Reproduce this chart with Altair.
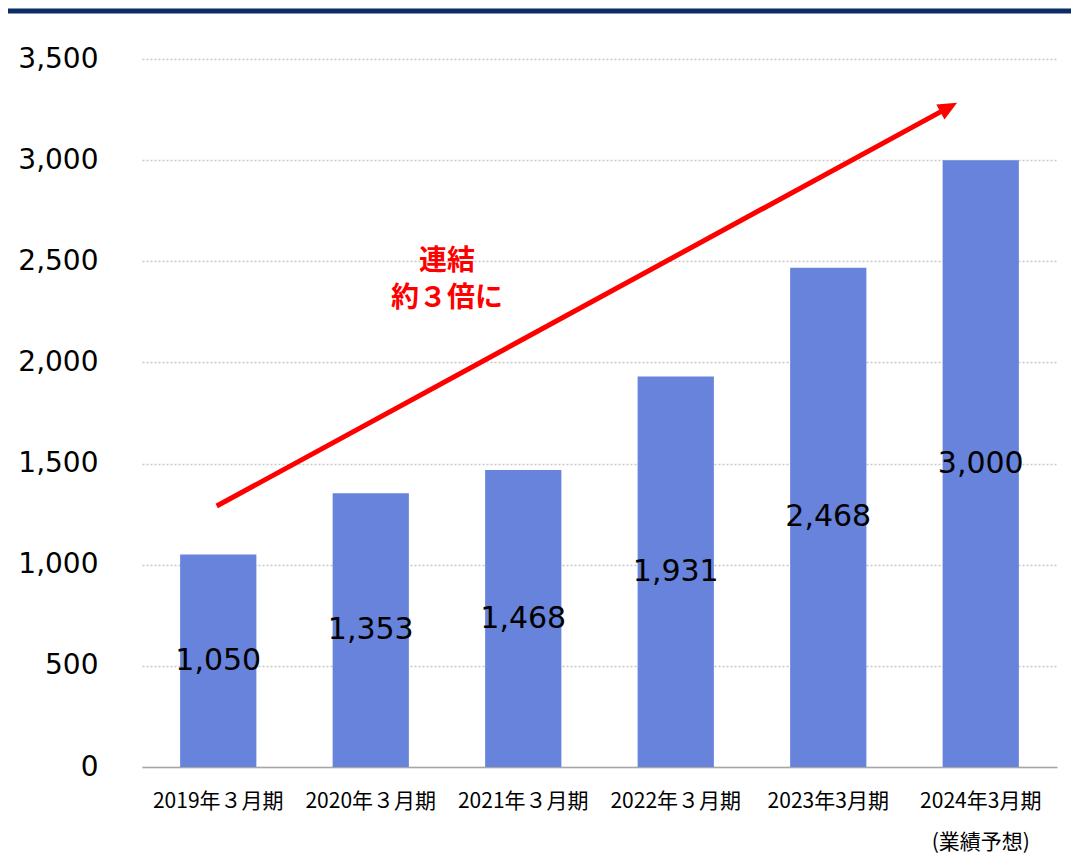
import altair as alt
import pandas as pd

# ---- data ----
categories = ["2019年３月期", "2020年３月期", "2021年３月期", "2022年３月期", "2023年3月期", "2024年3月期"]
values = [1050, 1353, 1468, 1931, 2468, 3000]
value_labels = ["1,050", "1,353", "1,468", "1,931", "2,468", "3,000"]
y_ticks = [0, 500, 1000, 1500, 2000, 2500, 3000, 3500]

# annotation (arrow in band-index units / value units)
arrow_x = [0.49, 5.29]
arrow_y = [1290, 3261]
note_lines = ["連結", "約３倍に"]
note_x = [2.0, 2.0]
note_y = [2496, 2316]

W, H = 915, 708
df = pd.DataFrame({"cat": categories, "value": values, "label": value_labels})
df["mid"] = df["value"] / 2

band_scale = alt.Scale(paddingInner=0.5, paddingOuter=0.25)
xband = alt.X("cat:N", sort=categories, scale=band_scale,
              axis=alt.Axis(title=None, ticks=False, labelAngle=0, labelFont="Noto Sans CJK JP",
                            labelFontSize=21, labelColor="#000000", labelPadding=23,
                            labelLineHeight=41, labelBaseline="top",
                            domainColor="#A6A6A6", domainWidth=1.5,
                            labelExpr="datum.value == '2024年3月期' ? ['2024年3月期', '(業績予想)'] : datum.value"))
yscale = alt.Scale(domain=[0, 3500], nice=False)
yaxis = alt.Axis(title=None, values=y_ticks, labelExpr="format(datum.value, ',')",
                 ticks=False, domain=False,
                 labelFont="DejaVu Sans", labelFontSize=28, labelColor="#000000",
                 labelPadding=44, gridColor="#C8C8C8", gridDash=[2, 2], gridWidth=1.5)

bars = alt.Chart(df).mark_bar(color="#6783DB").encode(
    x=xband,
    y=alt.Y("value:Q", scale=yscale, axis=yaxis),
)

labels = alt.Chart(df).mark_text(font="DejaVu Sans", fontSize=30, color="#000000",
                                 baseline="middle", align="center").encode(
    x=alt.X("cat:N", sort=categories, scale=band_scale),
    y=alt.Y("mid:Q", scale=yscale, axis=yaxis),
    text="label:N",
)

arrow_df = pd.DataFrame({"x": [arrow_x[0]], "y": [arrow_y[0]], "x2": [arrow_x[1]], "y2": [arrow_y[1]]})
xq = alt.Scale(domain=[0, 6], nice=False, zero=False)
line = alt.Chart(arrow_df).mark_rule(color="#FF0000", strokeWidth=5).encode(
    x=alt.X("x:Q", scale=xq, axis=None),
    y=alt.Y("y:Q", scale=yscale, axis=yaxis),
    x2="x2:Q",
    y2="y2:Q",
)
head = alt.Chart(arrow_df).mark_point(
    shape="M0,-1L0.9,1L-0.9,1Z", filled=True, color="#FF0000", opacity=1,
    size=361, angle=61.4, strokeWidth=0,
).encode(
    x=alt.X("x2:Q", scale=xq, axis=None),
    y=alt.Y("y2:Q", scale=yscale, axis=yaxis),
)

note_df = pd.DataFrame({"t": note_lines, "x": note_x, "y": note_y})
note = alt.Chart(note_df).mark_text(font="Noto Sans CJK JP", fontSize=28, fontWeight="bold",
                                    color="#FF0000", baseline="middle", align="center").encode(
    x=alt.X("x:Q", scale=xq, axis=None),
    y=alt.Y("y:Q", scale=yscale, axis=yaxis),
    text="t:N",
)

topbar = alt.Chart(pd.DataFrame({"k": [0]})).mark_rule(color="#0B2C64", strokeWidth=5).encode(
    x=alt.value(-140), x2=alt.value(W + 20), y=alt.value(-48),
)

base = alt.layer(bars, labels)
chart = alt.layer(base, line, head, note, topbar).resolve_scale(x="independent").properties(
    width=W, height=H,
    autosize=alt.AutoSizeParams(type="none"),
    padding={"left": 134, "top": 51, "right": 14, "bottom": 88},
).configure(background="#FFFFFF").configure_view(strokeWidth=0)

chart.save("out.html", embed_options={"renderer": "svg", "actions": False})
